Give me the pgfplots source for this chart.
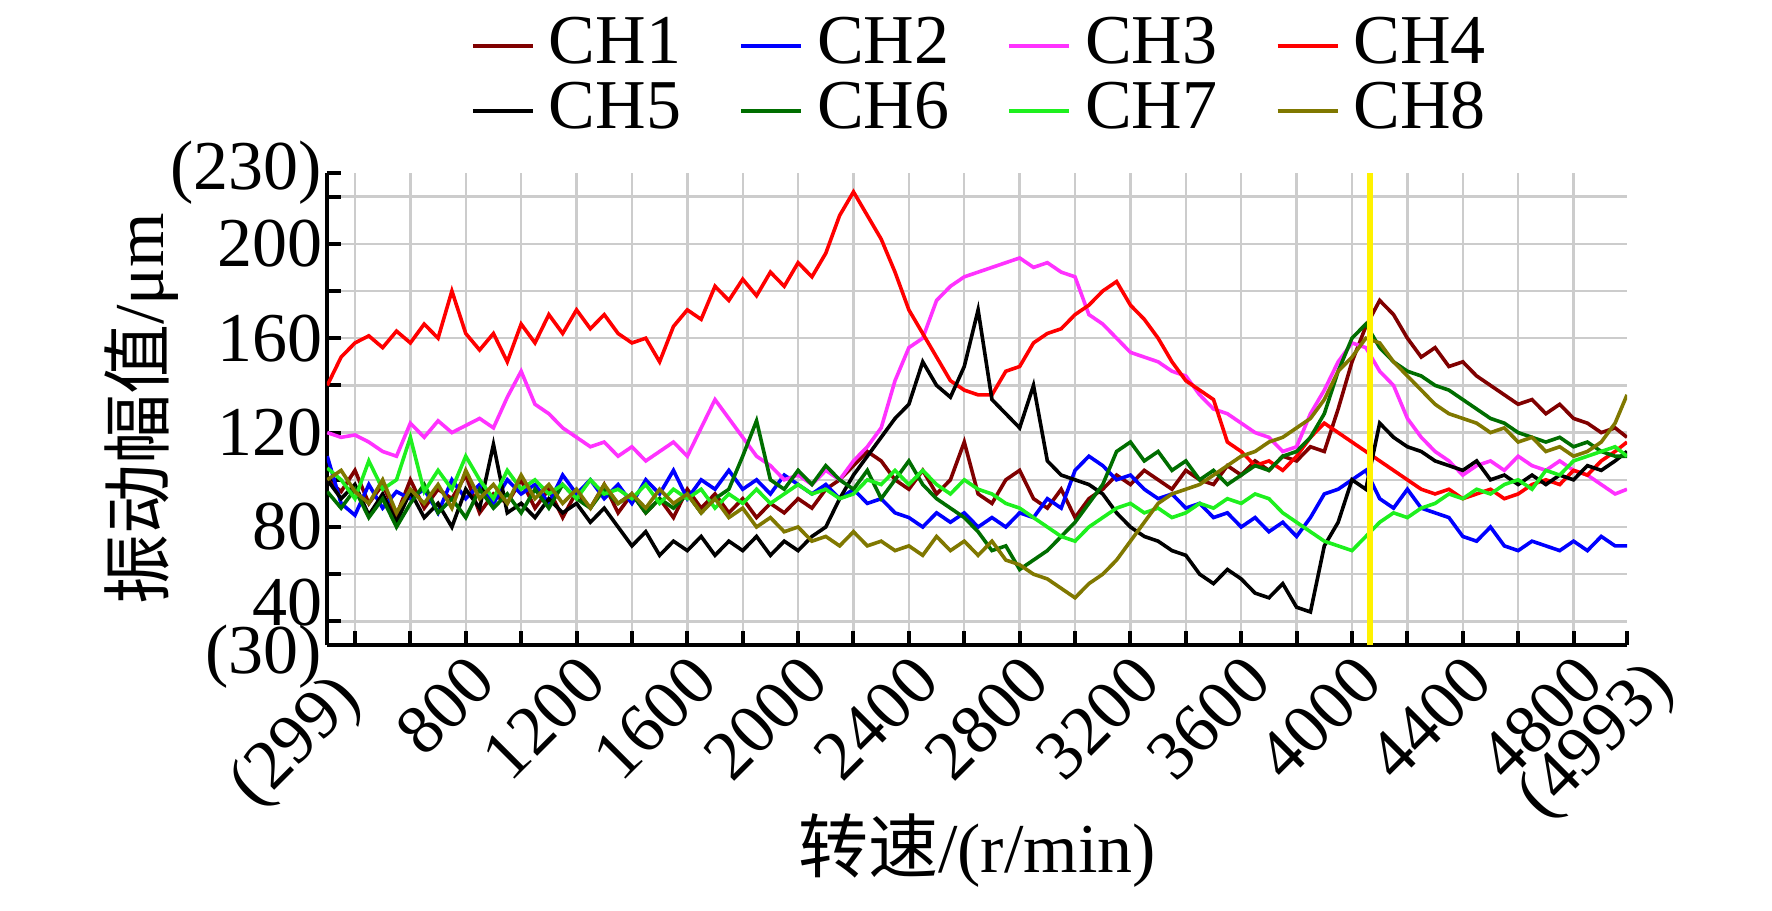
\documentclass[border=0pt]{standalone}
\usepackage{fontspec}
\setmainfont{Liberation Serif}
\newfontfamily\cjk{Noto Sans CJK SC}
\usepackage{pgfplots}
\usepackage{pgfplotstable}
\pgfplotsset{compat=1.18}
\definecolor{c1}{RGB}{128,0,0}
\definecolor{c2}{RGB}{0,0,255}
\definecolor{c3}{RGB}{255,50,255}
\definecolor{c4}{RGB}{255,0,0}
\definecolor{c5}{RGB}{0,0,0}
\definecolor{c6}{RGB}{0,110,0}
\definecolor{c7}{RGB}{30,240,30}
\definecolor{c8}{RGB}{128,120,0}
\pgfplotstableread{
x c1 c2 c3 c4 c5 c6 c7 c8
300 100 110 120 140 100 95 105 100
350 95 90 118 152 92 88 100 104
400 104 85 119 158 98 96 92 95
450 90 98 116 161 85 84 108 90
500 98 88 112 156 94 92 96 100
550 85 95 110 163 82 80 100 86
600 100 92 124 158 95 90 118 96
650 88 96 118 166 84 98 95 90
700 96 86 125 160 90 86 104 98
750 92 100 120 180 80 92 96 88
800 102 92 123 162 96 84 110 104
850 86 98 126 155 88 96 100 92
900 94 90 122 162 115 88 92 98
950 90 100 135 150 86 94 104 90
1000 100 94 146 166 90 86 96 102
1050 88 98 132 158 84 96 100 92
1100 96 90 128 170 92 88 94 98
1150 84 102 122 162 86 98 98 90
1200 95 94 118 172 90 92 92 96
1250 88 100 114 164 82 88 100 88
1300 98 92 116 170 88 96 94 98
1350 86 98 110 162 80 90 96 90
1400 94 90 114 158 72 94 92 94
1450 86 100 108 160 78 86 98 88
1500 92 94 112 150 68 92 90 96
1550 84 104 116 165 74 88 96 90
1600 96 92 110 172 70 94 92 94
1650 88 100 122 168 76 86 96 86
1700 94 96 134 182 68 92 88 92
1750 86 104 126 176 74 96 94 84
1800 92 96 118 185 70 110 90 88
1850 84 100 110 178 76 125 96 80
1900 90 94 106 188 68 100 90 84
1950 86 102 100 182 74 96 94 78
2000 92 98 102 192 70 104 98 80
2050 88 94 98 186 76 98 94 74
2100 96 98 104 196 80 106 96 76
2150 100 92 100 212 92 100 92 72
2200 106 96 108 222 102 96 94 78
2250 112 90 114 212 110 104 100 72
2300 108 92 122 202 118 92 98 74
2350 100 86 142 188 126 100 104 70
2400 96 84 156 172 132 108 98 72
2450 104 80 160 162 150 98 104 68
2500 94 86 176 152 140 92 98 76
2550 100 82 182 142 135 88 94 70
2600 116 86 186 138 148 84 100 74
2650 94 80 188 136 172 78 96 68
2700 90 84 190 136 134 70 94 74
2750 100 80 192 146 128 72 90 66
2800 104 86 194 148 122 62 88 64
2850 92 84 190 158 140 66 84 60
2900 88 92 192 162 108 70 80 58
2950 96 88 188 164 102 76 76 54
3000 84 104 186 170 100 82 74 50
3050 92 110 170 174 98 90 80 56
3100 96 106 166 180 94 98 84 60
3150 102 100 160 184 86 112 88 66
3200 98 102 154 174 80 116 90 74
3250 104 96 152 168 76 108 86 82
3300 100 92 150 160 74 112 88 90
3350 96 94 146 150 70 104 84 94
3400 104 88 144 142 68 108 86 96
3450 100 90 136 138 60 100 90 98
3500 98 84 130 134 56 104 88 102
3550 106 86 128 116 62 98 92 106
3600 102 80 124 112 58 102 90 110
3650 108 84 120 106 52 106 94 112
3700 104 78 118 108 50 104 92 116
3750 110 82 112 104 56 110 86 118
3800 108 76 114 110 46 112 82 122
3850 114 84 128 118 44 118 78 126
3900 112 94 138 124 72 128 74 134
3950 130 96 150 120 82 146 72 146
4000 150 100 158 116 100 160 70 152
4050 165 104 156 112 96 166 76 160
4100 176 92 146 108 124 156 82 158
4150 170 88 140 104 118 150 86 150
4200 160 96 126 100 114 146 84 144
4250 152 88 118 96 112 144 88 138
4300 156 86 112 94 108 140 90 132
4350 148 84 108 96 106 138 94 128
4400 150 76 102 92 104 134 92 126
4450 144 74 106 94 108 130 96 124
4500 140 80 108 96 100 126 94 120
4550 136 72 104 92 102 124 98 122
4600 132 70 110 94 98 120 100 116
4650 134 74 106 98 102 118 96 118
4700 128 72 104 100 98 116 104 112
4750 132 70 108 98 102 118 102 114
4800 126 74 104 104 100 114 108 110
4850 124 70 102 102 106 116 110 112
4900 120 76 98 108 104 112 112 116
4950 122 72 94 112 108 110 114 124
4993 118 72 96 116 112 110 110 136
}\data
\begin{document}
\fontsize{17.5}{20}\selectfont
\begin{tikzpicture}
\begin{axis}[
  scale only axis, width=325pt, height=118pt,
  xmin=299, xmax=4993, ymin=30, ymax=230,
  axis x line*=bottom, axis y line*=left,
  axis line style={line width=1pt,-},
  tick align=inside, major tick length=3.5pt,
  tick style={line width=1pt, black},
  xtick={400,600,...,4800},
  xticklabels={,,800,,1200,,1600,,2000,,2400,,2800,,3200,,3600,,4000,,4400,,4800},
  extra x ticks={299,4993}, extra x tick labels={(299)\hspace*{4.5pt},(4993)},
  extra x tick style={grid=none},
  extra x tick style={xticklabel style={xshift=2pt, yshift=-3pt}},
  ytick={40,60,...,220},
  yticklabels={\raisebox{5pt}[12pt][0pt]{40},,80,,120,,160,,200,},
  extra y ticks={30,230}, extra y tick labels={\raisebox{-1pt}[12pt][0pt]{(30)},(230)},
  extra y tick style={grid=none},
  grid=major, major grid style={gray!40, line width=0.6pt},
  /pgf/number format/assume math mode=true,
  ticklabel style={font=\fontsize{17.5}{20}\selectfont},
  yticklabel style={inner sep=1pt},
  xticklabel style={rotate=45, anchor=north east, inner sep=1pt},
  xlabel={{\cjk 转速}/(r/min)},
  ylabel={{\cjk 振动幅值}/μm},
  label style={font=\fontsize{17.5}{20}\selectfont},
  xlabel style={yshift=12pt},
  ylabel style={yshift=-9pt},
  legend columns=4,
  legend style={at={(0.11,1.34)}, anchor=north west, draw=none, fill=none, inner sep=0pt,
    font=\fontsize{17.5}{20}\selectfont, column sep=2pt, row sep=0pt,
    /tikz/every even column/.append style={column sep=13pt},
    nodes={inner xsep=1.5pt, inner ysep=1pt}},
  legend image code/.code={\draw[#1, line width=1pt] (0,0) -- (15pt,0);},
  every axis plot/.append style={line width=0.9pt},
]
\addplot[c1] table[x=x,y=c1]{\data};
\addplot[c2] table[x=x,y=c2]{\data};
\addplot[c3] table[x=x,y=c3]{\data};
\addplot[c4] table[x=x,y=c4]{\data};
\addplot[c5] table[x=x,y=c5]{\data};
\addplot[c6] table[x=x,y=c6]{\data};
\addplot[c7] table[x=x,y=c7]{\data};
\addplot[c8] table[x=x,y=c8]{\data};
\legend{CH1,CH2,CH3,CH4,CH5,CH6,CH7,CH8}
\addplot[yellow, line width=1.5pt, forget plot] coordinates {(4065,30) (4065,230)};
\end{axis}
\useasboundingbox (-81.75pt,-62pt) rectangle (361.25pt,161.25pt);
\end{tikzpicture}
\end{document}
